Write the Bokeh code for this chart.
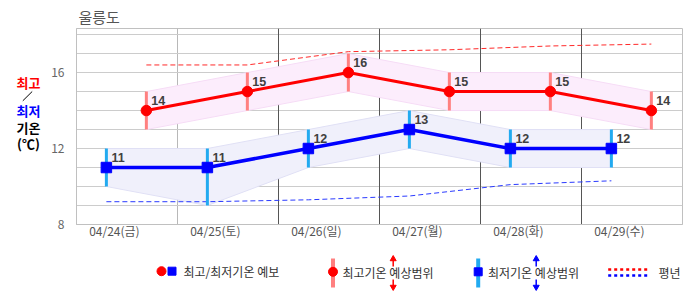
from bokeh.plotting import figure
from bokeh.layouts import column, row
from bokeh.models import Range1d, FixedTicker, Grid
from bokeh.core.properties import value
from bokeh.embed import file_html
from bokeh.resources import INLINE

# ---------------- data ----------------
station = "울릉도"
day_labels = ["04/24(금)", "04/25(토)", "04/26(일)", "04/27(월)", "04/28(화)", "04/29(수)"]
tmax = [14, 15, 16, 15, 15, 14]
tmax_lo = [13, 14, 15, 14, 14, 13]
tmax_hi = [15, 16, 17, 16, 16, 15]
tmin = [11, 11, 12, 13, 12, 12]
tmin_lo = [10, 9, 11, 12, 11, 11]
tmin_hi = [12, 12, 13, 14, 13, 13]
norm_max = [16.4, 16.4, 17.1, 17.2, 17.4, 17.5]
norm_min = [9.2, 9.2, 9.3, 9.5, 10.1, 10.3]
y_ticks = [8, 12, 16]

# ---------------- layout constants ----------------
MIN_HOUR = 7.1     # time of day the minimum is plotted
MAX_HOUR = 16.6    # time of day the maximum is plotted
LABEL_HOUR = 9     # where the date label sits
KR = "Noto Sans CJK KR"

n = len(day_labels)
x_min = [d * 24 + MIN_HOUR for d in range(n)]
x_max = [d * 24 + MAX_HOUR for d in range(n)]
label_ticks = [d * 24 + LABEL_HOUR for d in range(n)]

# ---------------- main chart ----------------
p = figure(width=640, height=250, x_range=Range1d(0, n * 24), y_range=Range1d(8, 18.32),
           output_backend="svg", toolbar_location=None, title=station,
           min_border_left=30, min_border_right=4, min_border_top=28, min_border_bottom=26)
p.background_fill_color = "white"
p.border_fill_color = "white"
p.outline_line_color = "#c0c0c0"

p.title.text_font = KR
p.title.text_font_size = "15px"
p.title.text_font_style = "normal"
p.title.text_color = "#555555"
p.title.offset = 2
p.title.standoff = 4

# y axis
p.yaxis.ticker = FixedTicker(ticks=y_ticks)
p.yaxis.major_tick_line_color = None
p.yaxis.minor_tick_line_color = None
p.yaxis.axis_line_color = "#c0c0c0"
p.yaxis.major_label_standoff = 6
p.yaxis.major_label_text_font = KR
p.yaxis.major_label_text_font_size = "12px"
p.yaxis.major_label_text_color = "#666666"
p.ygrid.ticker = FixedTicker(ticks=list(range(8, 19)))
p.ygrid.grid_line_color = "#cccccc"

# x axis
p.xaxis.ticker = FixedTicker(ticks=label_ticks)
p.xaxis.major_label_overrides = {t: lab for t, lab in zip(label_ticks, day_labels)}
p.xaxis.major_tick_line_color = None
p.xaxis.minor_tick_line_color = None
p.xaxis.axis_line_color = "#c0c0c0"
p.xaxis.major_label_standoff = -9
p.xaxis.major_label_text_font = KR
p.xaxis.major_label_text_font_size = "12px"
p.xaxis.major_label_text_color = "#555555"
p.xgrid.ticker = FixedTicker(ticks=[24])
p.xgrid.grid_line_color = "#b8b8b8"
dark_grid = Grid(dimension=0, ticker=FixedTicker(ticks=[48, 72, 96, 120]),
                 grid_line_color="#555555")
p.add_layout(dark_grid)

# bands
p.varea(x=x_max, y1=tmax_lo, y2=tmax_hi, fill_color="#fcedfc")
p.line(x_max, tmax_hi, line_color="#f6dcf6", line_width=1)
p.line(x_max, tmax_lo, line_color="#f6dcf6", line_width=1)
p.varea(x=x_min, y1=tmin_lo, y2=tmin_hi, fill_color="#f0f0fb")
p.line(x_min, tmin_hi, line_color="#e0e0f5", line_width=1)
p.line(x_min, tmin_lo, line_color="#e0e0f5", line_width=1)

# normals
p.line(x_max, norm_max, line_color="#ff2a2a", line_width=1, line_dash="5 3")
p.line(x_min, norm_min, line_color="#2a3aff", line_width=1, line_dash="5 3")

# range bars
p.segment(x0=x_max, y0=tmax_lo, x1=x_max, y1=tmax_hi, line_color="#ff8080", line_width=3)
p.segment(x0=x_min, y0=tmin_lo, x1=x_min, y1=tmin_hi, line_color="#22aaf0", line_width=3)

# forecast lines and markers
p.line(x_max, tmax, line_color="#ff0000", line_width=3)
p.line(x_min, tmin, line_color="#0000ff", line_width=3.5)
p.scatter(x_max, tmax, marker="circle", size=10.5, fill_color="#ff0000", line_color="#ff0000")
p.scatter(x_min, tmin, marker="square", size=10.5, fill_color="#0000ff", line_color="#0000ff")

# value labels
for xs, ys in ((x_max, tmax), (x_min, tmin)):
    p.text(x=xs, y=ys, text=[str(v) for v in ys], x_offset=5, y_offset=-10,
           text_align="left", text_baseline="middle",
           text_font=value("Liberation Sans"), text_font_style="bold",
           text_font_size="12.5px", text_color="#404040")

# ---------------- left side label ----------------
# frame of this figure is aligned with the main frame (canvas rows 28..224)
lf = figure(width=46, height=250, x_range=Range1d(0, 46), y_range=Range1d(224, 28),
            output_backend="svg", toolbar_location=None, x_axis_type=None, y_axis_type=None,
            min_border=0)
lf.outline_line_color = None
lf.grid.visible = False
side_text = ["최고", "최저", "기온", "(℃)"]
side_color = ["#ff0000", "#0000ff", "#000000", "#000000"]
side_y = [81.7, 110, 126.7, 143]
lf.text(x=[28] * 4, y=side_y, text=side_text, text_color=side_color,
        text_align="center", text_baseline="middle", text_font=value(KR),
        text_font_style="bold", text_font_size="13px")
lf.segment(x0=[31.7], y0=[91], x1=[22.3], y1=[100.3], line_color="black", line_width=1)

# ---------------- legend ----------------
lg = figure(width=686, height=45, x_range=Range1d(0, 686), y_range=Range1d(295, 250),
            output_backend="svg", toolbar_location=None, x_axis_type=None, y_axis_type=None,
            min_border=0)
lg.outline_line_color = None
lg.grid.visible = False
leg_font = dict(text_align="left", text_baseline="middle", text_font=value(KR),
                text_font_size="12px", text_color="#333333")
# item 1
lg.scatter([161], [270.7], marker="circle", size=9, fill_color="#ff0000", line_color="#ff0000")
lg.scatter([171.5], [270.7], marker="square", size=8, fill_color="#0000ff", line_color="#0000ff")
lg.text(x=[183], y=[271], text=["최고/최저기온 예보"], **leg_font)
# item 2
lg.segment(x0=[332.5], y0=[258], x1=[332.5], y1=[287], line_color="#ff8080", line_width=4)
lg.scatter([332.5], [271.3], marker="circle", size=9, fill_color="#ff0000", line_color="#ff0000")
lg.text(x=[342], y=[271.5], text=["최고기온 예상범위"], **leg_font)
lg.segment(x0=[392.7, 392.7], y0=[259, 279], x1=[392.7, 392.7], y1=[266, 286],
           line_color="#ff0000", line_width=1.5)
lg.scatter([392.7], [258.5], marker="triangle", size=6, fill_color="#ff0000", line_color="#ff0000")
lg.scatter([392.7], [286.5], marker="inverted_triangle", size=6, fill_color="#ff0000", line_color="#ff0000")
# item 3
lg.segment(x0=[477.7], y0=[258], x1=[477.7], y1=[287], line_color="#22aaf0", line_width=4)
lg.scatter([477.7], [271.3], marker="square", size=8, fill_color="#0000ff", line_color="#0000ff")
lg.text(x=[487.5], y=[271.5], text=["최저기온 예상범위"], **leg_font)
lg.segment(x0=[535.7, 535.7], y0=[259, 279], x1=[535.7, 535.7], y1=[266, 286],
           line_color="#0000ff", line_width=1.5)
lg.scatter([535.7], [258.5], marker="triangle", size=6, fill_color="#0000ff", line_color="#0000ff")
lg.scatter([535.7], [286.5], marker="inverted_triangle", size=6, fill_color="#0000ff", line_color="#0000ff")
# item 4
lg.segment(x0=[607.7], y0=[269], x1=[647], y1=[269], line_color="#ff0000", line_width=2.5, line_dash="3 3")
lg.segment(x0=[607.7], y0=[275], x1=[647], y1=[275], line_color="#0000ff", line_width=2.5, line_dash="3 3")
lg.text(x=[658], y=[271.5], text=["평년"], **leg_font)

layout = column(row(lf, p, spacing=0), lg, spacing=0)

open("out.html", "w").write(file_html(layout, INLINE))
